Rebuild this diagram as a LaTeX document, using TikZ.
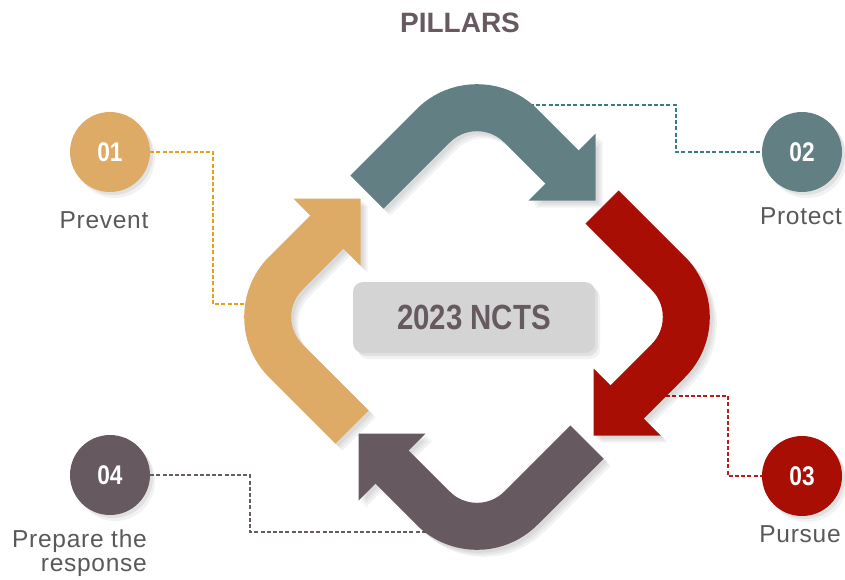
\documentclass[tikz,border=0pt]{standalone}
\usepackage{fontspec}
\setmainfont{Liberation Sans}
\newfontfamily\condfont{Liberation Sans}[FakeStretch=0.84]
\newfontfamily\labelfont{Liberation Sans}[LetterSpace=3]

\definecolor{pgold}{RGB}{222,171,102}
\definecolor{pteal}{RGB}{98,128,131}
\definecolor{pred}{RGB}{168,14,4}
\definecolor{pmauve}{RGB}{102,89,96}
\definecolor{boxgray}{RGB}{212,212,212}
\definecolor{labelgray}{RGB}{89,89,89}
\definecolor{dgold}{RGB}{232,160,20}
\definecolor{dteal}{RGB}{56,125,128}
\definecolor{dred}{RGB}{180,30,30}
\definecolor{dmauve}{RGB}{105,90,98}

\tikzset{
  pillar/.style={line width=47pt, rounded corners=62pt},
  dropshade/.style={
    preaction={fill=black, fill opacity=.07, transform canvas={xshift=3pt, yshift=-3pt}},
    preaction={fill=black, fill opacity=.05, transform canvas={xshift=5pt, yshift=-6pt}}},
  numdisc/.style={circle, minimum size=80pt, inner sep=0pt, text=white,
    font=\condfont\bfseries\fontsize{27}{27}\selectfont, dropshade},
  caption/.style={text=labelgray, font=\labelfont\fontsize{24.5}{24.5}\selectfont, inner sep=0pt},
  lead/.style={line width=1.9pt, dash pattern=on 4pt off 2.2pt}
}

\begin{document}
\begin{tikzpicture}[x=1pt, y=-1pt]
  \useasboundingbox (0,0) rectangle (845,579);

  % title and centre box
  \node[anchor=base, text=pmauve, font=\bfseries\fontsize{28}{28}\selectfont] (title) at (460,32.5) {PILLARS};
  \node[rounded corners=10pt, fill=boxgray, minimum width=242pt, minimum height=71pt,
        text=pmauve, font=\condfont\bfseries\fontsize{35}{35}\selectfont, dropshade] (core) at (474,317.5) {2023 NCTS};

  % numbered discs
  \node[numdisc, fill=pgold] (c1) at (110,152) {01};
  \node[numdisc, fill=pteal] (c2) at (802,152) {02};
  \node[numdisc, fill=pred] (c3) at (802,476) {03};
  \node[numdisc, fill=pmauve] (c4) at (110,475) {04};

  \node[caption, anchor=base] (l1) at (104,228) {Prevent};
  \node[caption, anchor=base] (l2) at (801,224) {Protect};
  \node[caption, anchor=base] (l3) at (800,542.5) {Pursue};
  \node[caption, anchor=base east, align=right] (l4) at (147,571.5) {Prepare the\\ response};

  % leader lines
  \coordinate (k1) at (213,304);  \coordinate (a1) at (252,304);
  \coordinate (k2) at (676,152);  \coordinate (a2) at (530,105);
  \coordinate (k3) at (728,476);  \coordinate (a3) at (660,396);
  \coordinate (k4) at (250,532);  \coordinate (a4) at (432,532);
  \draw[lead, dgold] (c1.east) -| (k1) -- (a1);
  \draw[lead, dteal] (a2) -| (k2) -- (c2.west);
  \draw[lead, dred] (a3) -| (k3) -- (c3.west);
  \draw[lead, dmauve] (c4.east) -| (k4) -- (a4);

  % soft shadows of the bent arrows
  \foreach \rot in {0,-90,-180,90}{
    \foreach \d in {7,5,3}{
      \begin{scope}[shift={(477+\d,317+\d)}, rotate=\rot, black, opacity=0.05]
        \draw[pillar] (-110,-125) -- (0,-235) -- (87,-148);
        \fill (118.5,-116.5) -- (118.5,-183.5) -- (51.5,-116.5) -- cycle;
      \end{scope}
    }
  }
  % bent arrows
  \foreach \rot/\col in {0/pteal,-90/pred,-180/pmauve,90/pgold}{
    \begin{scope}[shift={(477,317)}, rotate=\rot]
      \draw[pillar, \col] (-110,-125) -- (0,-235) -- (87,-148);
      \fill[\col] (118.5,-116.5) -- (118.5,-183.5) -- (51.5,-116.5) -- cycle;
    \end{scope}
  }
\end{tikzpicture}
\end{document}
